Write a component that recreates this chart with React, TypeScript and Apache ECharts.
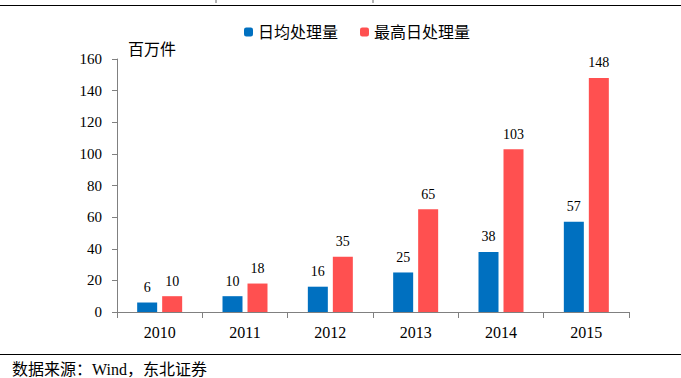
import React, { useEffect, useRef } from "react";
import * as echarts from "echarts";

const categories = ["2010", "2011", "2012", "2013", "2014", "2015"];
const dailyAvg = [6, 10, 16, 25, 38, 57];
const dailyMax = [10, 18, 35, 65, 103, 148];
const seriesNames = ["日均处理量", "最高日处理量"];
const unitLabel = "百万件";
const sourceText = "数据来源：Wind，东北证券";

const SERIF = "'Liberation Serif', 'Times New Roman', 'Noto Sans CJK SC', serif";

export default function App() {
  const ref = useRef<HTMLDivElement>(null);
  useEffect(() => {
    if (!ref.current) return;
    const chart = echarts.init(ref.current, null, { renderer: "svg" });
    chart.setOption({
      animation: false,
      backgroundColor: "#fff",
      textStyle: { fontFamily: SERIF },
      legend: {
        top: 19,
        left: 239,
        itemWidth: 9,
        itemHeight: 9,
        itemGap: 22,
        textStyle: { fontSize: 16, color: "#000", fontFamily: SERIF },
        data: seriesNames,
      },
      grid: { left: 117, right: 52, top: 59, bottom: 66 },
      xAxis: {
        type: "category",
        data: categories,
        axisLine: { lineStyle: { color: "#808080", width: 1 } },
        axisTick: { show: true, length: 6, alignWithLabel: false, lineStyle: { color: "#808080" } },
        axisLabel: { color: "#000", fontSize: 16, margin: 12, fontFamily: SERIF },
      },
      yAxis: {
        type: "value",
        min: 0,
        max: 160,
        interval: 20,
        axisLine: { show: true, lineStyle: { color: "#808080", width: 1 } },
        axisTick: { show: true, length: 5, lineStyle: { color: "#808080" } },
        axisLabel: { color: "#000", fontSize: 15, margin: 15, fontFamily: SERIF },
        splitLine: { show: false },
      },
      series: [
        {
          name: seriesNames[0],
          type: "bar",
          data: dailyAvg,
          barWidth: 20,
          barGap: "25%",
          itemStyle: { color: "#0070C0" },
          label: { show: true, position: "top", color: "#000", fontSize: 14, distance: 8, fontFamily: SERIF },
        },
        {
          name: seriesNames[1],
          type: "bar",
          data: dailyMax,
          barWidth: 20,
          barGap: "25%",
          itemStyle: { color: "#FF5050" },
          label: { show: true, position: "top", color: "#000", fontSize: 14, distance: 8, fontFamily: SERIF },
        },
      ],
      graphic: [
        { type: "line", shape: { x1: 0, y1: 5.5, x2: 681, y2: 5.5 }, style: { stroke: "#000", lineWidth: 1 } },
        { type: "line", shape: { x1: 216, y1: 0, x2: 216, y2: 3 }, style: { stroke: "#666", lineWidth: 1 } },
        { type: "line", shape: { x1: 373, y1: 0, x2: 373, y2: 3 }, style: { stroke: "#666", lineWidth: 1 } },
        { type: "line", shape: { x1: 0, y1: 354.5, x2: 681, y2: 354.5 }, style: { stroke: "#000", lineWidth: 1 } },
        {
          type: "text",
          left: 128,
          top: 41,
          style: { text: unitLabel, fontSize: 16, fill: "#000", fontFamily: SERIF },
        },
        {
          type: "text",
          left: 12,
          top: 361,
          style: { text: sourceText, fontSize: 16, fill: "#000", fontFamily: SERIF },
        },
      ],
    });
    return () => chart.dispose();
  }, []);
  return (
    <div
      ref={ref}
      style={{ position: "fixed", left: 0, top: 0, width: 681, height: 378 }}
    />
  );
}
